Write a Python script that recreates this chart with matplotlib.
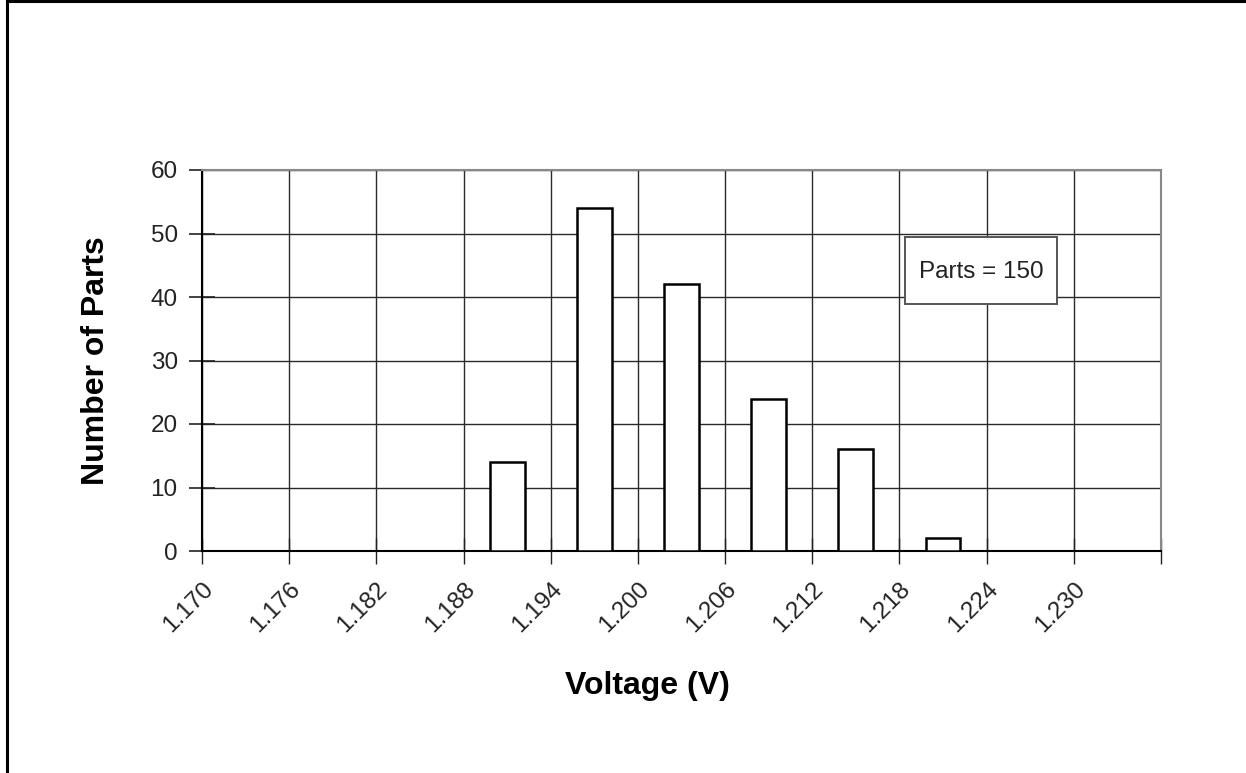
import matplotlib
matplotlib.use("Agg")
import matplotlib.pyplot as plt
import numpy as np
from matplotlib.patches import Rectangle

plt.rcParams['font.family'] = ['Liberation Sans', 'DejaVu Sans']

# Data
bin_edges_labels = ['1.170', '1.176', '1.182', '1.188', '1.194', '1.200',
                    '1.206', '1.212', '1.218', '1.224', '1.230']
counts = [0, 0, 0, 14, 54, 42, 24, 16, 2, 0, 0]
y_ticks = [0, 10, 20, 30, 40, 50, 60]
annotation = 'Parts = 150'
x_label = 'Voltage (V)'
y_label = 'Number of Parts'

W, H = 1246, 773
fig = plt.figure(figsize=(W / 100, H / 100), dpi=100)
ax = fig.add_axes([202 / W, 1 - 551 / H, (1161 - 202) / W, (551 - 170) / H])

n = len(bin_edges_labels)
edges = np.arange(n + 1)
centers = np.arange(n) + 0.5
ax.bar(centers, counts, width=0.40, color='white', edgecolor='black',
       linewidth=1.8, zorder=3)

ax.set_xlim(0, n)
ax.set_ylim(0, 60)
ax.set_xticks(edges)
ax.set_xticklabels(bin_edges_labels + [''], rotation=45, ha='right',
                   rotation_mode='anchor', fontsize=17.5, color='#222222')
ax.set_yticks(y_ticks)
ax.set_yticklabels([str(v) for v in y_ticks], fontsize=17.5, color='#222222')

ax.grid(True, color='#2a2a2a', linewidth=1.0, zorder=0)
ax.set_axisbelow(True)
ax.tick_params(axis='y', direction='inout', length=19, width=1.2, pad=8,
               color='#222222')
ax.tick_params(axis='x', direction='inout', length=19, width=1.0, pad=10,
               color='#222222')
for s in ['left', 'bottom']:
    ax.spines[s].set_color('black')
    ax.spines[s].set_linewidth(1.5)
for s in ['top', 'right']:
    ax.spines[s].set_color('#888888')
    ax.spines[s].set_linewidth(1.5)

# annotation box
bx0, by0, bx1, by1 = 0.733, 0.648, 0.8916, 0.824
ax.add_patch(Rectangle((bx0, by0), bx1 - bx0, by1 - by0,
                       transform=ax.transAxes, facecolor='white',
                       edgecolor='#555555', linewidth=1.4, zorder=5))
ax.text((bx0 + bx1) / 2, (by0 + by1) / 2 - 0.005, annotation,
        transform=ax.transAxes, fontsize=17.5, color='#222222',
        ha='center', va='center', zorder=6)

fig.text(647 / W, 1 - 686 / H, x_label, ha='center', va='center',
         fontsize=23, fontweight='bold')
fig.text(96 / W, 1 - 361 / H, y_label, ha='center', va='center',
         rotation=90, fontsize=23, fontweight='bold')

# page border (top and left)
fig.add_artist(plt.Line2D([6.5 / W, 6.5 / W], [0, 1 - 1 / H], color='black',
                          linewidth=2.2, transform=fig.transFigure))
fig.add_artist(plt.Line2D([6.5 / W, 1], [1 - 1.2 / H, 1 - 1.2 / H],
                          color='black', linewidth=2.2,
                          transform=fig.transFigure))

fig.savefig('out.png', dpi=100)
